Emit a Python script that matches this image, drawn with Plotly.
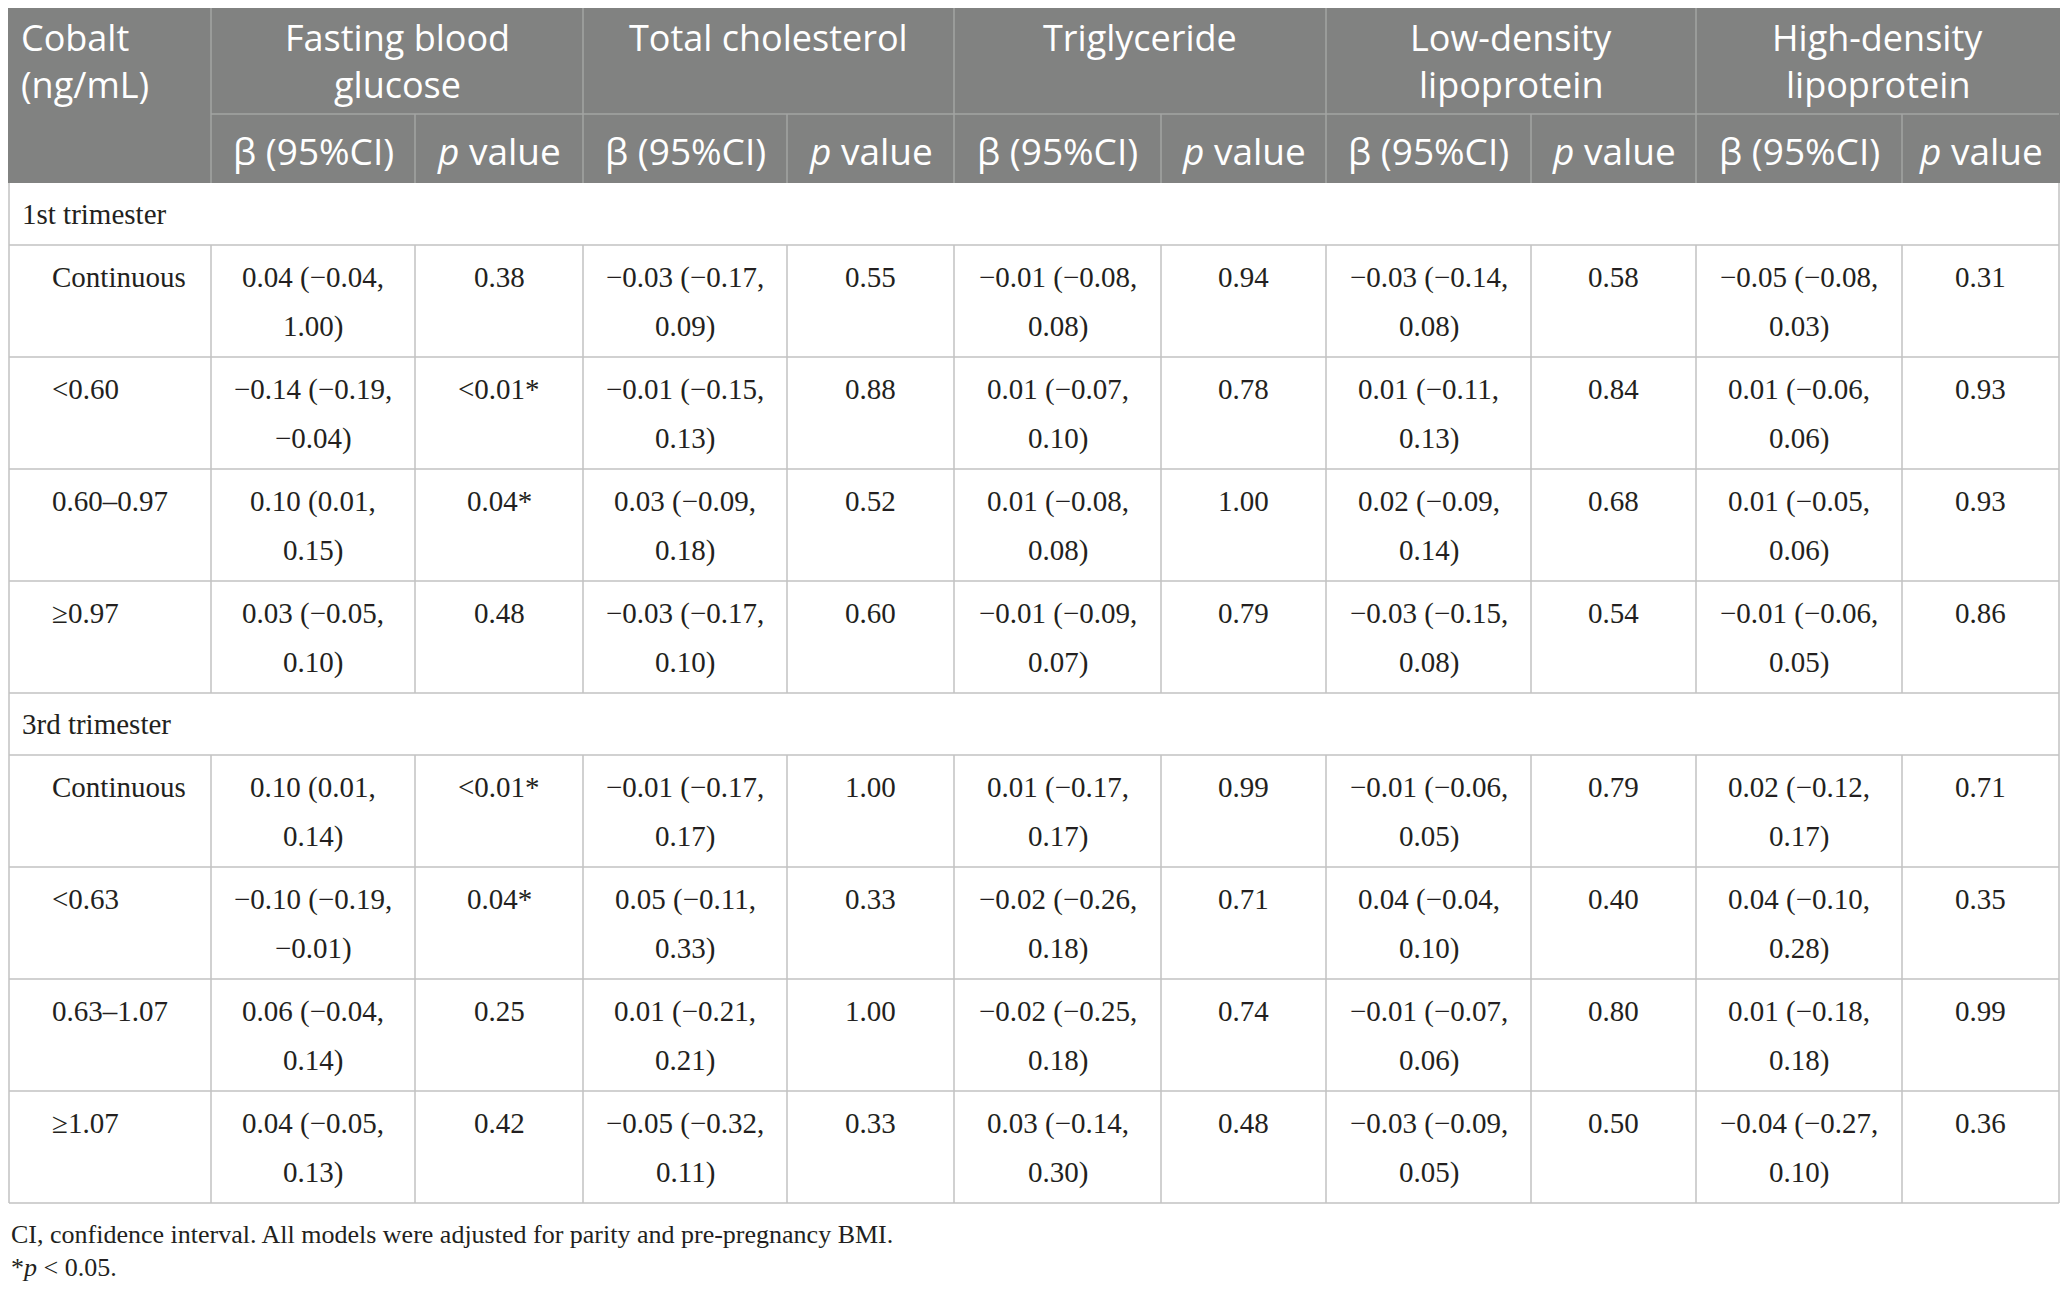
import plotly.graph_objects as go

# ==============================================================================
# Data
# ==============================================================================
outcomes = ["Fasting blood glucose", "Total cholesterol", "Triglyceride",
            "Low-density lipoprotein", "High-density lipoprotein"]
outcome_lines = [["Fasting blood", "glucose"], ["Total cholesterol"], ["Triglyceride"],
                 ["Low-density", "lipoprotein"], ["High-density", "lipoprotein"]]
sub_headers = ["β (95%CI)", "<i>p</i> value"]

trimesters = ["1st trimester", "3rd trimester"]
levels_t1 = ["Continuous", "<0.60", "0.60–0.97", "≥0.97"]
levels_t3 = ["Continuous", "<0.63", "0.63–1.07", "≥1.07"]

# beta (95%CI) per outcome, p value per outcome
beta_t1 = [
    ["0.04 (−0.04, 1.00)", "−0.03 (−0.17, 0.09)", "−0.01 (−0.08, 0.08)", "−0.03 (−0.14, 0.08)", "−0.05 (−0.08, 0.03)"],
    ["−0.14 (−0.19, −0.04)", "−0.01 (−0.15, 0.13)", "0.01 (−0.07, 0.10)", "0.01 (−0.11, 0.13)", "0.01 (−0.06, 0.06)"],
    ["0.10 (0.01, 0.15)", "0.03 (−0.09, 0.18)", "0.01 (−0.08, 0.08)", "0.02 (−0.09, 0.14)", "0.01 (−0.05, 0.06)"],
    ["0.03 (−0.05, 0.10)", "−0.03 (−0.17, 0.10)", "−0.01 (−0.09, 0.07)", "−0.03 (−0.15, 0.08)", "−0.01 (−0.06, 0.05)"],
]
p_t1 = [
    ["0.38", "0.55", "0.94", "0.58", "0.31"],
    ["<0.01*", "0.88", "0.78", "0.84", "0.93"],
    ["0.04*", "0.52", "1.00", "0.68", "0.93"],
    ["0.48", "0.60", "0.79", "0.54", "0.86"],
]
beta_t3 = [
    ["0.10 (0.01, 0.14)", "−0.01 (−0.17, 0.17)", "0.01 (−0.17, 0.17)", "−0.01 (−0.06, 0.05)", "0.02 (−0.12, 0.17)"],
    ["−0.10 (−0.19, −0.01)", "0.05 (−0.11, 0.33)", "−0.02 (−0.26, 0.18)", "0.04 (−0.04, 0.10)", "0.04 (−0.10, 0.28)"],
    ["0.06 (−0.04, 0.14)", "0.01 (−0.21, 0.21)", "−0.02 (−0.25, 0.18)", "−0.01 (−0.07, 0.06)", "0.01 (−0.18, 0.18)"],
    ["0.04 (−0.05, 0.13)", "−0.05 (−0.32, 0.11)", "0.03 (−0.14, 0.30)", "−0.03 (−0.09, 0.05)", "−0.04 (−0.27, 0.10)"],
]
p_t3 = [
    ["<0.01*", "1.00", "0.99", "0.79", "0.71"],
    ["0.04*", "0.33", "0.71", "0.40", "0.35"],
    ["0.25", "1.00", "0.74", "0.80", "0.99"],
    ["0.42", "0.33", "0.48", "0.50", "0.36"],
]
footnotes = ["CI, confidence interval. All models were adjusted for parity and pre-pregnancy BMI.",
             "*<i>p</i> < 0.05."]

# ==============================================================================
# Layout parameters (pixels, page coordinates)
# ==============================================================================
W, H = 2068, 1294
PAD = 8  # default body margin of the html page
col_edges = [PAD + 1, 211, 415, 583, 787, 954, 1161, 1326, 1531, 1696, 1902, 2059]
hdr_top, hdr_mid, hdr_bot = PAD, 114, 183
group_h, row_h = 62, 112

HDR_BG = "#818281"
HDR_LINE = "#a3a4a3"
GRID = "#c2c2c2"
TXT = "#231f20"
SANS = "Open Sans"
SERIF = "Liberation Serif"
HS, BS, FS = 36, 29, 26

shapes = []
ann = []


def esc(s):
    return s.replace("<", "&lt;").replace("&lt;i>", "<i>").replace("&lt;/i>", "</i>")


def text(x, y, s, size, color, family, xanchor="center"):
    ann.append(dict(x=x, y=y, text=esc(s), showarrow=False, xanchor=xanchor, yanchor="middle",
                    font=dict(size=size, color=color, family=family)))


def line(x0, y0, x1, y1, color, width=1.5):
    shapes.append(dict(type="line", x0=x0, y0=y0, x1=x1, y1=y1, line=dict(color=color, width=width)))


# ------------------------------------------
# Header
# ------------------------------------------
shapes.append(dict(type="rect", x0=col_edges[0] - 1, x1=col_edges[-1] + 1, y0=hdr_top, y1=hdr_bot,
                   fillcolor=HDR_BG, line=dict(width=0), layer="below"))
line(col_edges[1], hdr_mid, col_edges[-1], hdr_mid, HDR_LINE)
for i, xe in enumerate(col_edges[1:-1]):
    y0 = hdr_top if i % 2 == 0 else hdr_mid
    line(xe, y0, xe, hdr_bot, HDR_LINE)

hdr_y = [37, 84]
text(19, hdr_y[0], "Cobalt", HS, "white", SANS, "left")
text(19, hdr_y[1], "(ng/mL)", HS, "white", SANS, "left")
for k, lines in enumerate(outcome_lines):
    xc = (col_edges[1 + 2 * k] + col_edges[3 + 2 * k]) / 2
    for yy, s in zip(hdr_y, lines):
        text(xc, yy, s, HS, "white", SANS)
    for j, sh in enumerate(sub_headers):
        xs = (col_edges[1 + 2 * k + j] + col_edges[2 + 2 * k + j]) / 2
        text(xs, 150, sh, HS + 1, "white", SANS)

# ------------------------------------------
# Body
# ------------------------------------------
y = hdr_bot
blocks = [(trimesters[0], levels_t1, beta_t1, p_t1), (trimesters[1], levels_t3, beta_t3, p_t3)]
for name, levels, betas, ps in blocks:
    text(20, y + 31, name, BS, TXT, SERIF, "left")
    y += group_h
    line(col_edges[0], y, col_edges[-1], y, GRID)
    for lvl, brow, prow in zip(levels, betas, ps):
        text(50, y + 32, lvl, BS, TXT, SERIF, "left")
        for k in range(len(outcomes)):
            head, tail = brow[k].split(", ")
            xb = (col_edges[1 + 2 * k] + col_edges[2 + 2 * k]) / 2
            xp = (col_edges[2 + 2 * k] + col_edges[3 + 2 * k]) / 2
            text(xb, y + 32, head + ",", BS, TXT, SERIF)
            text(xb, y + 81, tail, BS, TXT, SERIF)
            text(xp, y + 32, prow[k], BS, TXT, SERIF)
        for xe in col_edges[1:-1]:
            line(xe, y, xe, y + row_h, GRID)
        y += row_h
        line(col_edges[0], y, col_edges[-1], y, GRID)

body_bot = y
line(col_edges[0], hdr_bot, col_edges[0], body_bot, GRID)
line(col_edges[-1], hdr_bot, col_edges[-1], body_bot, GRID)

# ------------------------------------------
# Footnotes
# ------------------------------------------
text(PAD + 1, 1234, footnotes[0], FS, TXT, SERIF, "left")
text(PAD + 1, 1267, footnotes[1], FS, TXT, SERIF, "left")

# ==============================================================================
# Figure
# ==============================================================================
fig = go.Figure()
fig.update_layout(
    width=W - 2 * PAD, height=H - 2 * PAD, margin=dict(l=0, r=0, t=0, b=0),
    paper_bgcolor="white", plot_bgcolor="white",
    xaxis=dict(range=[PAD, W - PAD], visible=False, fixedrange=True),
    yaxis=dict(range=[H - PAD, PAD], visible=False, fixedrange=True),
    shapes=shapes, annotations=ann, showlegend=False,
)
fig.write_html("out.html")
